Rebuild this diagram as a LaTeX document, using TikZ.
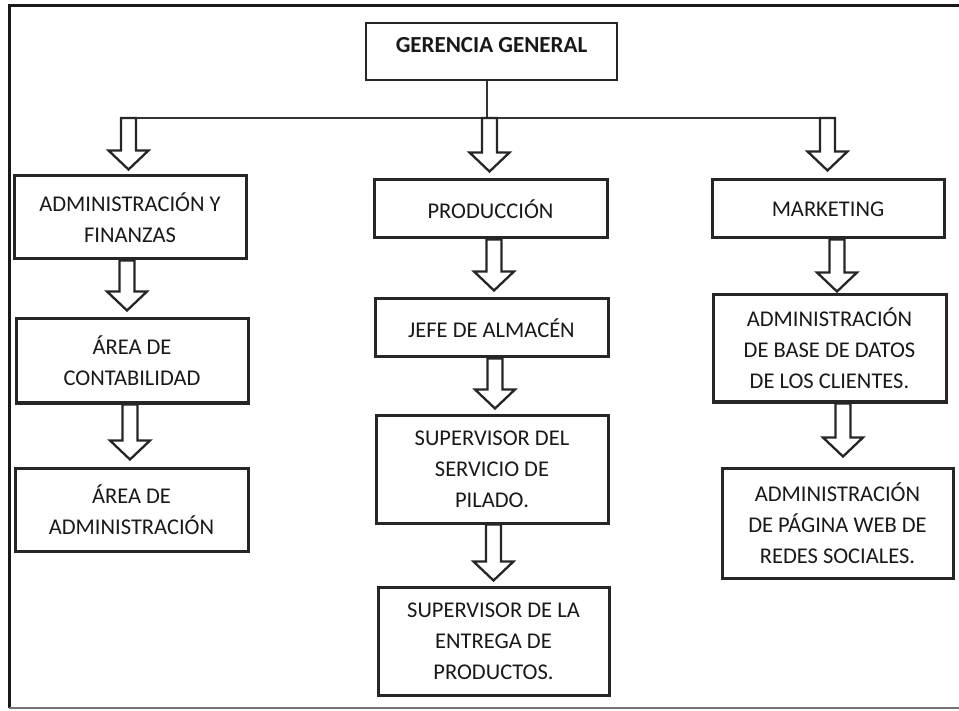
\documentclass[tikz,border=0pt]{standalone}
\usepackage{fontspec}
\setmainfont{Carlito}
\usetikzlibrary{calc}
\tikzset{
  x=1pt, y=1pt,
  orgbox/.style={draw=black!85, line width=3pt, fill=white, align=center, inner sep=0pt,
    font=\fontsize{22.5}{31}\selectfont, text=black!90},
  topbox/.style={draw=black!85, line width=1.6pt, fill=white, align=center, inner sep=0pt,
    font=\fontsize{23}{31}\selectfont\bfseries, text=black!90},
  barrowst/.style={draw=black!85, line width=2.3pt, fill=white, line join=miter},
  frameline/.style={draw=black!90, line width=3pt},
  bottomline/.style={draw=black!55, line width=1.6pt},
  busline/.style={draw=black!80, line width=1.3pt}
}
% block arrow: #1 top coordinate (x,y), #2 tip coordinate
\newcommand\blockarrow[2]{%
  \path let \p1=#1, \p2=#2 in
    [barrowst] (\x1-7.5pt,\y1) -- (\x1+7.5pt,\y1) -- (\x1+7.5pt,\y2+19pt) -- (\x1+20pt,\y2+19pt)
    -- (\x1,\y2) -- (\x1-20pt,\y2+19pt) -- (\x1-7.5pt,\y2+19pt) -- cycle;}
\begin{document}
\begin{tikzpicture}
\useasboundingbox (0,0) rectangle (959,-711);
% frame
\draw[frameline] (9,-708) -- (9,-6) -- (959,-6);
\draw[bottomline] (9,-708) -- (959,-708);

% nodes
\node[topbox, minimum width=251, minimum height=57] (ger) at (491.5,-51.5) {\raisebox{14pt}{GERENCIA GENERAL}};

\node[orgbox, minimum width=232, minimum height=83] (af) at (130,-217.5) {ADMINISTRACIÓN Y\\FINANZAS};
\node[orgbox, minimum width=232, minimum height=84] (cont) at (132,-361) {ÁREA DE\\CONTABILIDAD};
\node[orgbox, minimum width=233, minimum height=83] (adm) at (131.5,-509.5) {ÁREA DE\\ADMINISTRACIÓN};

\node[orgbox, minimum width=233, minimum height=58] (prod) at (490.5,-209) {PRODUCCIÓN};
\node[orgbox, minimum width=233, minimum height=58] (jefe) at (491.5,-328) {JEFE DE ALMACÉN};
\node[orgbox, minimum width=232, minimum height=108] (sup1) at (492,-469) {SUPERVISOR DEL\\SERVICIO DE\\PILADO.};
\node[orgbox, minimum width=231, minimum height=108] (sup2) at (493.5,-641) {SUPERVISOR DE LA\\ENTREGA DE\\PRODUCTOS.};

\node[orgbox, minimum width=232, minimum height=58] (mkt) at (828,-209) {MARKETING};
\node[orgbox, minimum width=233, minimum height=107] (bd) at (829.5,-348.5) {ADMINISTRACIÓN\\DE BASE DE DATOS\\DE LOS CLIENTES.};
\node[orgbox, minimum width=231, minimum height=110] (web) at (837.5,-523) {ADMINISTRACIÓN\\DE PÁGINA WEB DE\\REDES SOCIALES.};

% bus
\coordinate (busL) at (137,-118);
\coordinate (busR) at (835,-118);
\coordinate (busM) at ($(ger.south)+(-4.5,0)$);
\draw[busline] (busM) -- (busM |- busL);
\draw[busline] (busL) -- (busR);

% top arrows
\blockarrow{(128.5,-118)}{($(af.north)+(-1.5,5)$)}
\blockarrow{(489.5,-118)}{($(prod.north)+(-1,7)$)}
\blockarrow{(827.5,-118)}{($(mkt.north)+(-0.5,8)$)}

% column arrows
\blockarrow{($(af.south)+(-3,0)$)}{($(cont.north)+(-5,7)$)}
\blockarrow{($(cont.south)+(-2,0)$)}{($(adm.north)+(-1.5,7)$)}

\blockarrow{($(prod.south)+(3.5,0)$)}{($(jefe.north)+(2.5,7)$)}
\blockarrow{($(jefe.south)+(3.5,0)$)}{($(sup1.north)+(3,5)$)}
\blockarrow{($(sup1.south)+(1.5,0)$)}{($(sup2.north)+(0,5)$)}

\blockarrow{($(mkt.south)+(9,0)$)}{($(bd.north)+(7.5,2)$)}
\blockarrow{($(bd.south)+(13.5,0)$)}{($(web.north)+(5.5,10)$)}
\end{tikzpicture}
\end{document}
